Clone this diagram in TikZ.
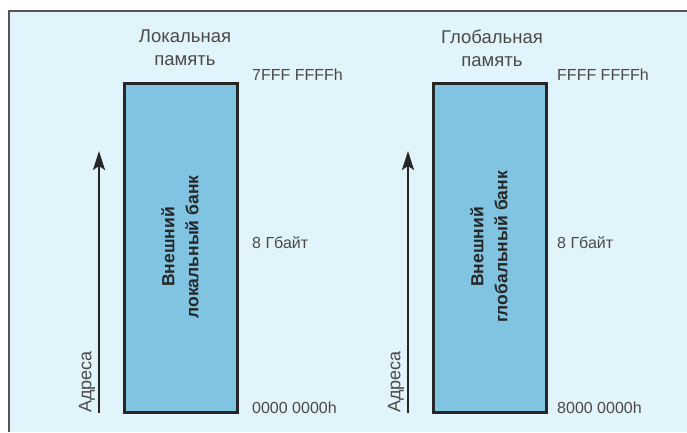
\documentclass[tikz,border=0pt]{standalone}
\usepackage{fontspec}
\setmainfont{Liberation Sans}
\usetikzlibrary{arrows.meta}
\definecolor{bgblue}{HTML}{E1F3FB}
\definecolor{bankblue}{HTML}{80C4E2}
\definecolor{txtgray}{HTML}{4A4A4A}
\definecolor{framegray}{HTML}{555555}
\tikzset{
  bank/.style={draw=black!85, line width=3pt, fill=bankblue},
  addr/.style={text=txtgray, font=\fontsize{16}{18}\selectfont, anchor=west, inner sep=0pt},
  title/.style={text=txtgray, font=\fontsize{18.5}{23}\selectfont, align=center, inner sep=0pt},
  banklabel/.style={text=black!85, font=\bfseries\fontsize{17.5}{24}\selectfont, align=center, rotate=90, inner sep=0pt},
  axis/.style={draw=black!85, line width=2pt, -{Stealth[length=19pt,width=12pt,inset=4pt]}},
  axislabel/.style={text=txtgray, font=\fontsize{18}{20}\selectfont, rotate=90, anchor=west, inner sep=0pt}
}
\begin{document}
\begin{tikzpicture}[x=1pt,y=-1pt]
\useasboundingbox (0,0) rectangle (687,432);
\fill[bgblue] (9,11) rectangle (687,432);
\draw[framegray, line width=1.5pt] (9,432) -- (9,11) -- (687,11);
% left bank
\node[bank, minimum width=113pt, minimum height=329pt, inner sep=0pt] (lbank) at (180.5,247.5) {};
\node[banklabel] (llab) at (180,247) {Внешний\\локальный банк};
\node[title] (ltitle) at (185,48) {Локальная\\память};
\coordinate (la0) at (99,413);
\coordinate (la1) at (99,151);
\draw[axis] (la0) -- (la1);
\node[axislabel] (ladr) at (87,413) {Адреса};
\node[addr] (l1) at (252,75) {7FFF FFFFh};
\node[addr] (l2) at (252,243) {8 Гбайт};
\node[addr] (l3) at (252,408) {0000 0000h};
% right bank
\node[bank, minimum width=113pt, minimum height=329pt, inner sep=0pt] (rbank) at (489.5,247.5) {};
\node[banklabel] (rlab) at (489,247) {Внешний\\глобальный банк};
\node[title] (rtitle) at (492,48) {Глобальная\\память};
\coordinate (ra0) at (408,413);
\coordinate (ra1) at (408,151);
\draw[axis] (ra0) -- (ra1);
\node[axislabel] (radr) at (396,413) {Адреса};
\node[addr] (r1) at (557,75) {FFFF FFFFh};
\node[addr] (r2) at (557,243) {8 Гбайт};
\node[addr] (r3) at (557,408) {8000 0000h};
\end{tikzpicture}
\end{document}
